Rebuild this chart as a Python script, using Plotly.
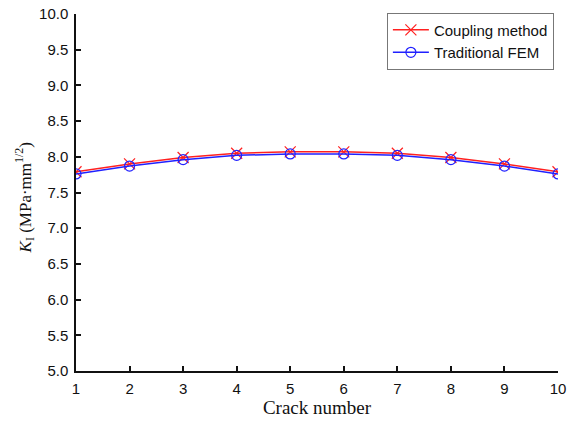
import plotly.graph_objects as go

crack = [1, 2, 3, 4, 5, 6, 7, 8, 9, 10]
coupling = [7.79, 7.90, 7.99, 8.05, 8.07, 8.07, 8.05, 7.99, 7.90, 7.79]
traditional = [7.76, 7.87, 7.96, 8.02, 8.04, 8.04, 8.02, 7.96, 7.87, 7.76]
yticks = [5.0, 5.5, 6.0, 6.5, 7.0, 7.5, 8.0, 8.5, 9.0, 9.5, 10.0]

fig = go.Figure()
fig.add_trace(go.Scatter(x=crack, y=coupling, mode="lines+markers", name="Coupling method",
                         line=dict(color="#ff2020", width=1.5),
                         marker=dict(symbol="x-thin-open", size=11, line=dict(color="#ff2020", width=1.2))))
fig.add_trace(go.Scatter(x=crack, y=traditional, mode="lines+markers", name="Traditional FEM",
                         line=dict(color="#2020ff", width=1.5),
                         marker=dict(symbol="circle-open", size=10, line=dict(color="#2020ff", width=1.2))))

fig.update_layout(
    width=574, height=424,
    margin=dict(l=76, r=16, t=14, b=53, autoexpand=False),
    plot_bgcolor="white", paper_bgcolor="white",
    font=dict(family="Arial, Liberation Sans", size=15, color="#111"),
    legend=dict(x=0.645, y=1.004, xanchor="left", yanchor="top",
                bordercolor="#777", borderwidth=1, bgcolor="white",
                font=dict(size=15), tracegroupgap=0, itemwidth=36),
    showlegend=True,
    annotations=[dict(text="<i>K</i><sub>I</sub> (MPa·mm<sup>1/2</sup>)", textangle=-90,
                      xref="paper", yref="paper", x=-0.106, y=0.486, xanchor="center", yanchor="middle",
                      showarrow=False, font=dict(family="Liberation Serif, Times New Roman", size=17, color="#111"))],
)
fig.update_xaxes(range=[1, 10], tickvals=crack, showline=True, linecolor="#111", linewidth=1.5,
                 ticks="inside", ticklen=5, tickwidth=1.5, tickcolor="#111", showgrid=False, zeroline=False,
                 automargin=False, ticklabelstandoff=3,
                 title=dict(text="Crack number", font=dict(family="Liberation Serif, Times New Roman", size=19), standoff=3))
fig.update_yaxes(range=[5, 10], tickvals=yticks, tickformat=".1f", showline=True, linecolor="#111", linewidth=1.5,
                 ticks="inside", ticklen=5, tickwidth=1.5, tickcolor="#111", showgrid=False, zeroline=False,
                 automargin=False, ticklabelstandoff=3)
fig.write_html("out.html", config={"displayModeBar": False},
               post_script="document.body.style.margin='0';document.body.style.overflow='hidden';")
